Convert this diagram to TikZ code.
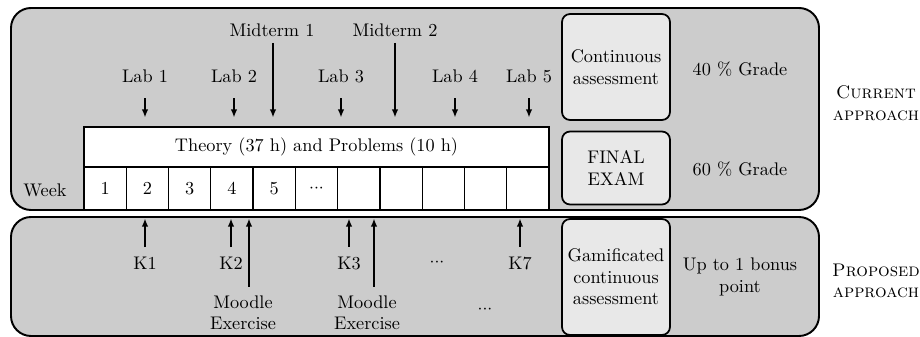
\documentclass[tikz,border=0pt]{standalone}
\usetikzlibrary{arrows.meta}
\definecolor{panelgrey}{HTML}{CCCCCC}
\definecolor{boxgrey}{HTML}{E8E8E8}
\newcommand{\middots}{${\cdot}{\cdot}{\cdot}$}
\begin{document}
\begin{tikzpicture}[x=0.02cm, y=-0.02cm,
  every node/.style={font=\fontsize{10.4pt}{12.2pt}\selectfont},
  panel/.style={draw, line width=1.1pt, fill=panelgrey, rounded corners=0.4cm},
  gradebox/.style={draw, line width=1pt, fill=boxgrey, rounded corners=0.16cm,
    align=center, minimum width=2.16cm, inner sep=1pt},
  cell/.style={draw, line width=0.7pt, fill=white, minimum width=0.8454cm,
    minimum height=0.86cm, inner sep=0pt},
  evt/.style={-{Latex[length=4.6pt,width=3.8pt]}, line width=0.8pt},
  lbl/.style={align=center, inner sep=3pt}]
\useasboundingbox (0,0) rectangle (920,337);

% grey panels for the two approaches
\path[panel] (11,8) rectangle (819,210);
\path[panel] (11,217) rectangle (819,336);

% theory block and week cells
\node[draw, line width=0.7pt, fill=white, minimum width=9.3cm, minimum height=0.8cm,
  inner sep=0pt] (theory) at (316.5,147) {Theory (37 h) and Problems (10 h)};
\node (week) at (45,190) {Week};
\foreach \i/\t in {1/1,2/2,3/3,4/4,5/5,6/\middots,7/,8/,9/,10/,11/}
  \node[cell] (w\i) at ({84+42.27*(\i-0.5)},188.5) {\t};

% current approach: labs and midterms
\foreach \n/\x in {1/145,2/234,3/341,4/455,5/529}
  \node[lbl] (lab\n) at (\x,76) {Lab \n};
\node[lbl] (mid1) at (272,30) {Midterm 1};
\node[lbl] (mid2) at (395,30) {Midterm 2};
\foreach \n in {1,...,5}
  \draw[evt] ([yshift=-0.2cm]lab\n.south) -- ([yshift=0.18cm]theory.north -| lab\n);
\coordinate (m1top) at (273,43);
\coordinate (m2top) at (395,43);
\draw[evt] (m1top) -- ([yshift=0.18cm]theory.north -| m1top);
\draw[evt] (m2top) -- ([yshift=0.18cm]theory.north -| m2top);

% assessment boxes and weights
\node[gradebox, minimum height=2.12cm] (cont) at (616,67) {Continuous\\assessment};
\node[gradebox, minimum height=1.46cm] (final) at (616,168) {FINAL\\EXAM};
\node[gradebox, minimum height=2.32cm] (gam) at (616,277)
  {Gamificated\\continuous\\assessment};
\node (g40) at (740,69) {40 \% Grade};
\node (g60) at (740,169) {60 \% Grade};
\node[align=center] (bonus) at (740,277) {Up to 1 bonus\\point};

% approach captions
\node[align=center] (cur) at (876,103) {\textsc{Current}\\\textsc{approach}};
\node[align=center] (prop) at (876,281) {\textsc{Proposed}\\\textsc{approach}};

% proposed approach: quizzes and Moodle exercises
\foreach \n/\x in {K1/145,K2/231,K3/349,K7/520}
  \node[lbl] (\n) at (\x,263) {\n};
\node (kdots) at (437,263) {\middots};
\foreach \n in {K1,K2,K3,K7}
  \draw[evt] ([yshift=0.08cm]\n.north) -- ([yshift=-0.16cm]w1.south -| \n);
\node[lbl] (moodle1) at (243,313) {Moodle\\Exercise};
\node[lbl] (moodle2) at (367,313) {Moodle\\Exercise};
\node (mdots) at (485,310) {\middots};
\coordinate (mo1) at (249,287);
\coordinate (mo2) at (374,287);
\draw[evt] (mo1) -- ([yshift=-0.16cm]w1.south -| mo1);
\draw[evt] (mo2) -- ([yshift=-0.16cm]w1.south -| mo2);
\end{tikzpicture}
\end{document}
